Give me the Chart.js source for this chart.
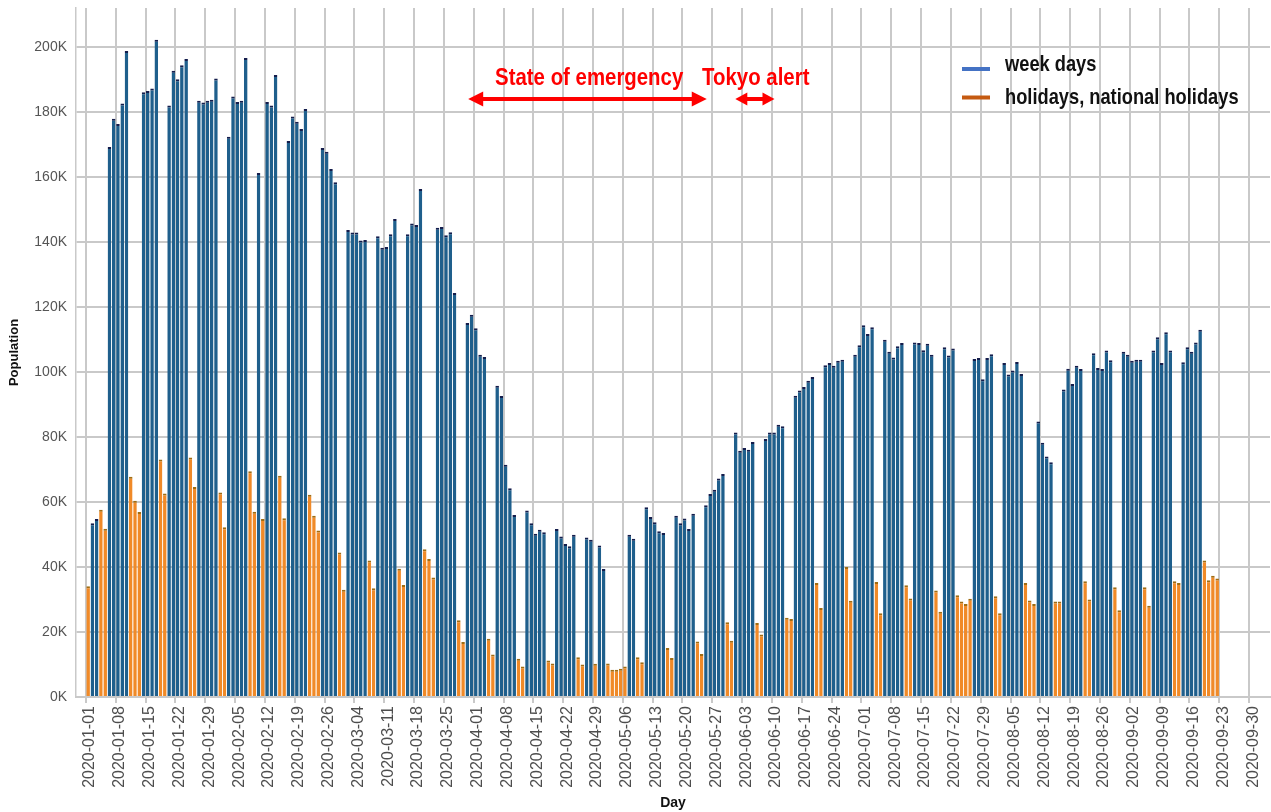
<!DOCTYPE html>
<html>
<head>
<meta charset="utf-8">
<script src="https://cdn.jsdelivr.net/npm/chart.js@4.4.1/dist/chart.umd.min.js"></script>
<style>
  html, body { margin: 0; padding: 0; background: #fff; }
  #wrap { width: 1271px; height: 812px; position: relative; }
</style>
</head>
<body>
<div id="wrap"><canvas id="chart"></canvas></div>
<script>
// daily population (thousands), one array per month, from 2020-01-01
const jan = [34.1, 53.5, 54.8, 57.6, 51.8, 169.2, 177.9, 176.3, 182.6, 198.8, 67.8, 60.4, 56.9, 186.1, 186.5, 187.2,
  202.2, 73.1, 62.6, 182.0, 192.7, 190.1, 194.4, 196.3, 73.7, 64.6, 183.5, 182.9, 183.5, 183.8, 190.3];
const feb = [62.9, 52.2, 172.4, 184.8, 183.1, 183.5, 196.6, 69.5, 57.0, 161.2, 54.8, 183.1, 182.0, 191.4, 68.1, 55.0,
  171.1, 178.6, 177.0, 174.8, 180.9, 62.2, 55.8, 51.2, 168.9, 167.8, 162.5, 158.4, 44.5];
const mar = [33.0, 143.7, 142.9, 142.9, 140.5, 140.6, 42.0, 33.5, 141.8, 138.2, 138.5, 142.4, 147.1, 39.5, 34.5, 142.4,
  145.7, 145.2, 156.3, 45.5, 42.5, 36.8, 144.4, 144.6, 142.1, 143.0, 124.3, 23.6, 16.9, 115.1, 117.6];
const apr = [113.5, 105.3, 104.6, 17.9, 13.1, 95.8, 92.6, 71.5, 64.2, 56.0, 11.8, 9.4, 57.4, 53.5, 50.2, 51.5, 50.7,
  11.2, 10.3, 51.7, 49.4, 47.1, 46.4, 49.9, 12.2, 10.0, 49.1, 48.4, 10.2, 46.6];
const may = [39.4, 10.3, 8.4, 8.4, 8.7, 9.4, 49.9, 48.7, 12.2, 10.7, 58.4, 55.4, 53.8, 51.0, 50.5, 15.1, 12.0, 55.8,
  53.5, 54.9, 51.7, 56.4, 17.1, 13.2, 59.0, 62.5, 63.8, 67.2, 68.6, 23.0, 17.3];
const jun = [81.4, 75.8, 76.6, 76.1, 78.5, 22.8, 19.2, 79.4, 81.4, 81.4, 83.8, 83.3, 24.4, 24.0, 92.7, 94.3, 95.4,
  97.3, 98.5, 35.1, 27.4, 102.1, 102.8, 101.9, 103.5, 103.8, 40.0, 29.6, 105.3, 108.2];
const jul = [114.4, 111.7, 113.8, 35.4, 25.8, 109.9, 106.2, 104.5, 107.9, 108.9, 34.4, 30.3, 109.1, 108.9, 106.7,
  108.7, 105.3, 32.8, 26.2, 107.6, 105.1, 107.2, 31.3, 29.4, 28.6, 30.2, 104.0, 104.3, 97.8, 104.3, 105.5];
const aug = [31.0, 25.8, 102.8, 99.2, 100.5, 103.1, 99.4, 35.1, 29.7, 28.6, 84.8, 78.2, 74.0, 72.2, 29.4, 29.4, 94.6,
  101.0, 96.3, 101.9, 100.9, 35.6, 30.0, 105.8, 101.2, 100.9, 106.6, 103.6, 33.8, 26.7, 106.2];
const sep = [105.3, 103.5, 103.8, 103.8, 33.8, 28.1, 106.6, 110.7, 102.8, 112.2, 106.6, 35.6, 35.1, 103.0, 107.6,
  106.2, 109.1, 113.0, 42.0, 35.9, 37.3, 36.5];

// national holidays (saturdays and sundays go to the holiday series too)
const nationalHolidays = ['2020-01-01', '2020-01-13', '2020-02-11', '2020-02-24', '2020-03-20', '2020-04-29',
  '2020-05-04', '2020-05-05', '2020-05-06', '2020-07-23', '2020-07-24', '2020-08-10', '2020-09-21', '2020-09-22'];

const xTickLabels = ['2020-01-01', '2020-01-08', '2020-01-15', '2020-01-22', '2020-01-29', '2020-02-05', '2020-02-12',
  '2020-02-19', '2020-02-26', '2020-03-04', '2020-03-11', '2020-03-18', '2020-03-25', '2020-04-01', '2020-04-08',
  '2020-04-15', '2020-04-22', '2020-04-29', '2020-05-06', '2020-05-13', '2020-05-20', '2020-05-27', '2020-06-03',
  '2020-06-10', '2020-06-17', '2020-06-24', '2020-07-01', '2020-07-08', '2020-07-15', '2020-07-22', '2020-07-29',
  '2020-08-05', '2020-08-12', '2020-08-19', '2020-08-26', '2020-09-02', '2020-09-09', '2020-09-16', '2020-09-23',
  '2020-09-30'];
const yTicks = [0, 20, 40, 60, 80, 100, 120, 140, 160, 180, 200];

// annotation spans in day index
const emergencySpan = [89.2, 145.2];
const tokyoSpan = [151.9, 161.1];

const START = Date.UTC(2020, 0, 1);
const DAY = 86400000;
const dayIndex = (s) => Math.round((Date.parse(s) - START) / DAY);

const population = [].concat(jan, feb, mar, apr, may, jun, jul, aug, sep);
const weekDays = [];
const holidays = [];
population.forEach((v, i) => {
  const d = new Date(START + i * DAY);
  const dow = d.getUTCDay();
  const off = dow === 0 || dow === 6 || nationalHolidays.includes(d.toISOString().slice(0, 10));
  (off ? holidays : weekDays).push({ x: i, y: v });
});

const GRID = '#c9c9c9';
const FONT = '"Liberation Sans", Arial, sans-serif';
Chart.defaults.font.family = FONT;

function narrowText(ctx, text, x, y, size, color, align) {
  ctx.save();
  ctx.font = 'bold ' + size + 'px ' + FONT;
  ctx.fillStyle = color;
  ctx.textAlign = align;
  ctx.textBaseline = 'alphabetic';
  ctx.translate(x, y);
  ctx.scale(0.85, 1);
  ctx.fillText(text, 0, 0);
  ctx.restore();
}

function doubleArrow(ctx, x1, x2, y, head, half) {
  ctx.save();
  ctx.strokeStyle = '#ff0000';
  ctx.fillStyle = '#ff0000';
  ctx.lineWidth = 4;
  ctx.beginPath();
  ctx.moveTo(x1 + head - 1, y);
  ctx.lineTo(x2 - head + 1, y);
  ctx.stroke();
  ctx.beginPath();
  ctx.moveTo(x1, y); ctx.lineTo(x1 + head, y - half); ctx.lineTo(x1 + head, y + half);
  ctx.closePath(); ctx.fill();
  ctx.beginPath();
  ctx.moveTo(x2, y); ctx.lineTo(x2 - head, y - half); ctx.lineTo(x2 - head, y + half);
  ctx.closePath(); ctx.fill();
  ctx.restore();
}

const overlay = {
  id: 'overlay',
  afterDatasetsDraw(chart) {
    const { ctx, scales: { x, y } } = chart;
    const ay = y.getPixelForValue(184);
    const ty = y.getPixelForValue(188.4);
    doubleArrow(ctx, x.getPixelForValue(emergencySpan[0]), x.getPixelForValue(emergencySpan[1]), ay, 15, 7.5);
    doubleArrow(ctx, x.getPixelForValue(tokyoSpan[0]), x.getPixelForValue(tokyoSpan[1]), ay, 12, 6.5);
    narrowText(ctx, 'State of emergency', x.getPixelForValue(117.6), ty, 24, '#ff0000', 'center');
    narrowText(ctx, 'Tokyo alert', x.getPixelForValue(156.7), ty, 24, '#ff0000', 'center');
  },
  afterDraw(chart) {
    const ctx = chart.ctx;
    const items = [
      { text: 'week days', color: '#4472c4', ly: 69, ty: 71 },
      { text: 'holidays, national holidays', color: '#c55a11', ly: 97.5, ty: 104 }
    ];
    items.forEach((it) => {
      ctx.save();
      ctx.strokeStyle = it.color;
      ctx.lineWidth = 4;
      ctx.beginPath();
      ctx.moveTo(962, it.ly);
      ctx.lineTo(990, it.ly);
      ctx.stroke();
      ctx.restore();
      narrowText(ctx, it.text, 1005, it.ty, 21.5, '#111', 'left');
    });
  }
};

const barCommon = {
  grouped: false,
  barPercentage: 0.84,
  categoryPercentage: 1,
  borderWidth: { top: 2, right: 0, bottom: 0, left: 0 }
};

new Chart(document.getElementById('chart'), {
  type: 'bar',
  data: {
    datasets: [
      Object.assign({
        label: 'week days',
        data: weekDays,
        backgroundColor: '#1f5f8c',
        borderColor: '#141d4c'
      }, barCommon),
      Object.assign({
        label: 'holidays, national holidays',
        data: holidays,
        backgroundColor: '#f08a28',
        borderColor: '#a06c12'
      }, barCommon)
    ]
  },
  options: {
    responsive: true,
    maintainAspectRatio: false,
    animation: false,
    layout: { padding: { top: 8, right: 1, left: 0, bottom: 0 } },
    plugins: {
      legend: { display: false },
      tooltip: { enabled: false }
    },
    scales: {
      x: {
        type: 'linear',
        offset: false,
        min: -2.85,
        max: 277.4,
        afterBuildTicks: (axis) => {
          axis.ticks = xTickLabels.map((s) => ({ value: dayIndex(s) - 0.5 }));
        },
        afterFit: (axis) => {
          axis.height = 115;
          axis.paddingLeft = 0;
          axis.paddingRight = 0;
        },
        ticks: {
          autoSkip: false,
          minRotation: 90,
          maxRotation: 90,
          padding: 3,
          labelOffset: 4,
          color: '#4d4d4d',
          font: { size: 16 },
          callback: (v, i) => xTickLabels[i]
        },
        grid: { color: GRID, lineWidth: 2, tickLength: 6, offset: false },
        border: { color: GRID, width: 2 },
        title: {
          display: true,
          text: 'Day',
          color: '#111',
          font: { size: 14, weight: 'bold' },
          padding: { top: 4, bottom: 0 }
        }
      },
      y: {
        min: 0,
        max: 212,
        afterBuildTicks: (axis) => {
          axis.ticks = yTicks.map((v) => ({ value: v }));
        },
        afterFit: (axis) => {
          axis.width = 76;
          axis.paddingTop = 0;
          axis.paddingBottom = 0;
        },
        ticks: {
          padding: 9,
          color: '#555',
          font: { size: 14 },
          callback: (v) => v + 'K'
        },
        grid: { color: GRID, lineWidth: 2, drawTicks: false },
        border: { color: GRID, width: 1.5 },
        title: {
          display: true,
          text: 'Population',
          color: '#111',
          font: { size: 13, weight: 'bold' },
          padding: { top: 7, bottom: 0 }
        }
      }
    }
  },
  plugins: [overlay]
});
</script>
</body>
</html>
